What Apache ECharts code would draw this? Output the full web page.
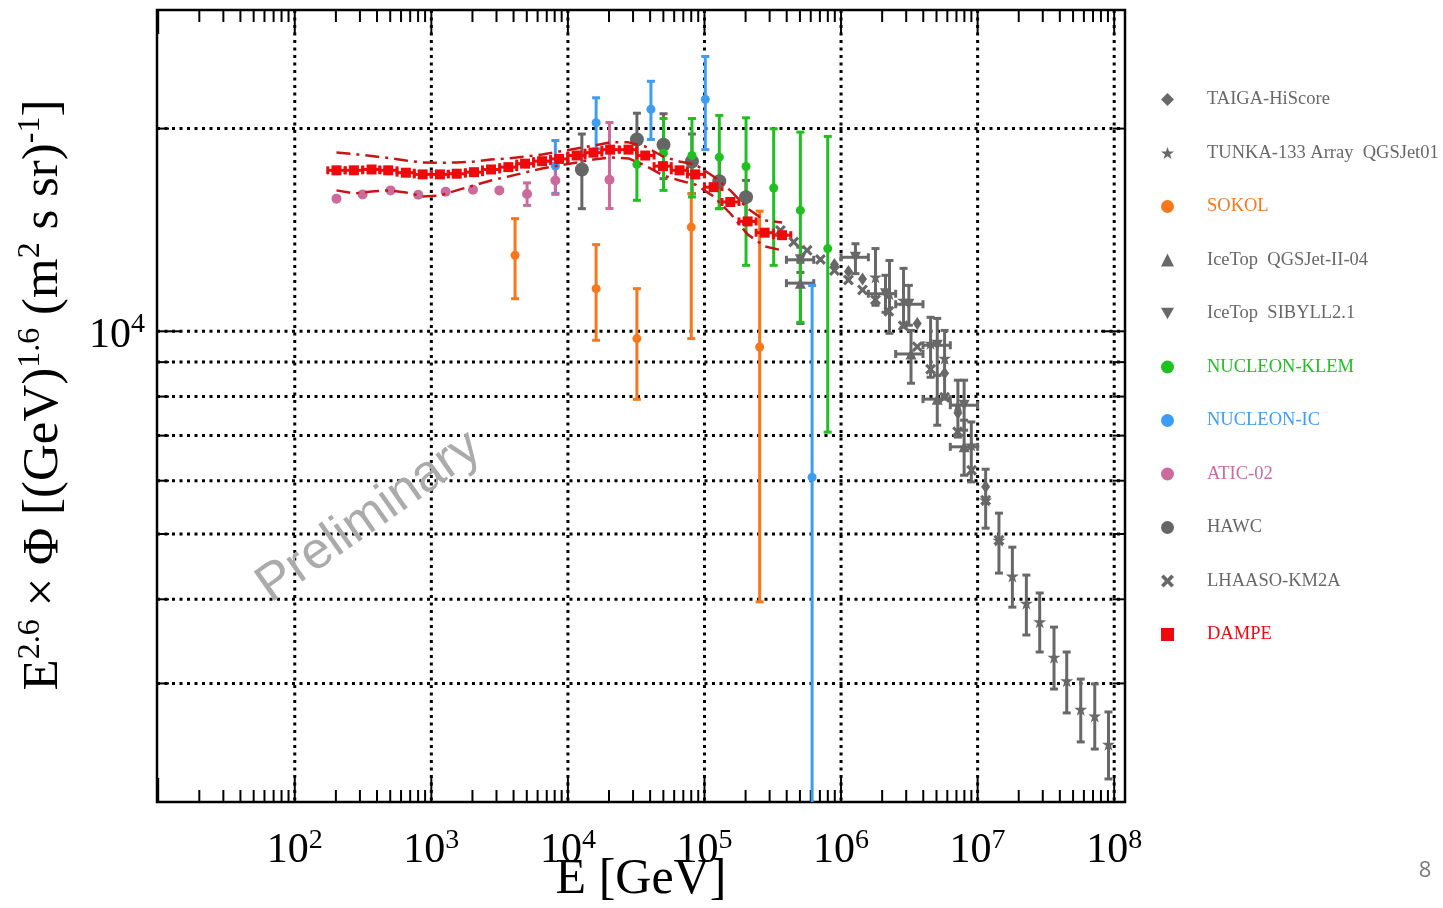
<!DOCTYPE html>
<html>
<head>
<meta charset="utf-8">
<script src="https://cdn.jsdelivr.net/npm/echarts@6/dist/echarts.min.js"></script>
<style>
  html, body { margin: 0; padding: 0; background: #fff; }
  #chart { width: 1443px; height: 908px; }
</style>
</head>
<body>
<div id="chart"></div>
<script>
// axis ranges and decorations
var xMin = 9.8, xMax = 1.2e8;
var yMin = 2000, yMax = 30000;
var xLabelExp = [2, 3, 4, 5, 6, 7, 8];
var yLabelExp = [4];
var xGridLines = [1e2, 1e3, 1e4, 1e5, 1e6, 1e7, 1e8];
var yGridLines = [3000, 4000, 5000, 6000, 7000, 8000, 9000, 10000, 20000];

// DAMPE
var dampeE = [202, 271, 365, 483, 651, 864, 1156, 1534, 2053, 2735, 3663, 4855, 6471, 8620, 11580, 15380, 20390, 27770, 36820, 49650, 65700, 85630, 116600, 154600, 207000, 275900, 370000];
var dampeFlux = [17340, 17340, 17390, 17340, 17200, 17100, 17100, 17140, 17230, 17390, 17530, 17740, 17890, 18030, 18240, 18420, 18610, 18610, 18240, 17590, 17340, 17100, 16370, 15560, 14560, 14010, 13890];
var dampeSysHi = [18430, 18330, 18210, 18090, 17930, 17810, 17790, 17810, 17870, 17990, 18060, 18180, 18300, 18490, 18680, 18870, 19080, 19080, 18810, 18180, 17870, 17690, 16980, 16190, 15220, 14610, 14510];
var dampeSysLo = [16190, 16020, 16130, 16190, 16080, 15860, 15910, 16190, 16470, 16750, 16980, 17210, 17450, 17630, 17810, 17990, 18120, 18060, 17630, 17040, 16750, 16520, 15860, 14960, 13930, 13370, 13190];

// ATIC-02
var aticE = [202, 314, 503, 802, 1273, 2018, 3147, 5023, 8096, 20150];
var aticFlux = [15740, 15970, 16190, 15950, 16120, 16230, 16190, 15990, 16750, 16790];
var aticLo = [0, 0, 0, 0, 0, 0, 0, 15380, 15970, 15220];
var aticHi = [0, 0, 0, 0, 0, 0, 0, 16610, 17740, 20420];

// SOKOL
var sokolE = [4102, 16090, 32010, 80030, 253500];
var sokolFlux = [12970, 11570, 9754, 14280, 9478];
var sokolLo = [11180, 9697, 7925, 9754, 3965];
var sokolHi = [14700, 13450, 11570, 16010, 15080];

// NUCLEON-KLEM
var klemE = [32010, 50120, 80950, 128400, 201500, 321100, 503700, 798700];
var klemFlux = [17700, 18390, 18240, 18140, 17570, 16320, 15120, 13270];
var klemLo = [15650, 16190, 15830, 15210, 12530, 12530, 10310, 7083];
var klemHi = [19200, 20700, 20700, 20920, 20750, 19990, 19760, 19470];

// NUCLEON-IC
var icE = [8096, 16090, 40540, 101400, 614000];
var icFlux = [17590, 20400, 21370, 22110, 6070];
var icLo = [16030, 18660, 19270, 18610, 1000];
var icHi = [19200, 22220, 23510, 25590, 11700];

// HAWC
var hawcE = [12650, 32010, 50120, 80950, 128400, 201500];
var hawcFlux = [17390, 19270, 18920, 17870, 16710, 15820];
var hawcLo = [15210, 17630, 16850, 16010, 15210, 14450];
var hawcHi = [19630, 21080, 21040, 19630, 18140, 16750];

// LHAASO-KM2A
var lhaasoE = [359700, 450000, 564300, 706300, 894600, 1133000, 1436000, 1787000, 2237000, 2853000, 3614000, 4524000, 5730000, 7134000, 9036000, 11450000, 14330000];
var lhaasoFlux = [14120, 13570, 13190, 12780, 12310, 11920, 11520, 11140, 10710, 10190, 9484, 8781, 7979, 7094, 6219, 5614, 4896];

// TUNKA-133
var tunkaE = [1787000, 2263000, 2868000, 4524000, 5730000, 7171000, 8990000, 11450000, 14330000, 17970000, 22750000, 28480000, 36260000, 44930000, 56900000, 72070000, 90820000];
var tunkaFlux = [12040, 11370, 11120, 9598, 9119, 7766, 6777, 5614, 4896, 4330, 3947, 3704, 3281, 3028, 2746, 2684, 2436];
var tunkaLo = [10930, 9932, 10140, 8546, 7979, 6965, 5976, 5101, 4375, 3894, 3540, 3340, 2943, 2712, 2456, 2397, 2164];
var tunkaHi = [13270, 12740, 12400, 10490, 10030, 8460, 7335, 6240, 5370, 4780, 4345, 4087, 3637, 3340, 3045, 2995, 2721];

// TAIGA-HiScore
var taigaE = [894600, 1133000, 1436000, 3614000, 5730000, 7171000, 11450000];
var taigaFlux = [12570, 12270, 11960, 10270, 8664, 7565, 5875];

// IceTop SIBYLL2.1
var sibE = [503800, 1275000, 2116000, 3136000, 5064000, 7964000];
var sibFlux = [12770, 12880, 11370, 10970, 9533, 7766];
var sibLo = [12230, 12180, 10670, 10210, 8603, 7131];
var sibHi = [13330, 13490, 12110, 11700, 10450, 8460];
var sibEmin = [398100, 1000000, 1585000, 2512000, 3981000, 6310000];
var sibEmax = [631000, 1585000, 2512000, 3981000, 6310000, 10000000];

// IceTop QGSJet-II-04
var qgsE = [503800, 3253000, 5064000, 7964000];
var qgsFlux = [11790, 9254, 7930, 6737];
var qgsLo = [10270, 8373, 7253, 6113];
var qgsHi = [12660, 10030, 8603, 7379];
var qgsEmin = [398100, 2512000, 3981000, 6310000];
var qgsEmax = [631000, 3981000, 6310000, 10000000];

var GRAY = '#686868', ORANGE = '#f7771a', GREEN = '#1fc01f', BLUE = '#3d9df2', PINK = '#cc6a9c', RED = '#ee0a0a';
var SERIF = '"Liberation Serif", "Times New Roman", serif';
var starPath = 'path://M50,0L61.8,35.1L98.9,35.1L68.9,56.8L80.3,91.9L50,70.2L19.7,91.9L31.1,56.8L1.1,35.1L38.2,35.1Z';
var crossPath = 'path://M20,0L50,30L80,0L100,20L70,50L100,80L80,100L50,70L20,100L0,80L30,50L0,20Z';
var downTriPath = 'path://M0,0L100,0L50,87Z';

function pts(E, F) {
    return E.map(function (e, i) { return [e, F[i]]; });
}
function errs(E, F, lo, hi, xlo, xhi) {
    return E.map(function (e, i) {
        return [e, F[i], lo ? lo[i] : 0, hi ? hi[i] : 0, xlo ? xlo[i] : 0, xhi ? xhi[i] : 0];
    });
}

function errorBars(color, lw, cap) {
    return function (params, api) {
        var e = api.value(0), f = api.value(1);
        var lo = api.value(2), hi = api.value(3), xl = api.value(4), xh = api.value(5);
        var c = api.coord([e, f]);
        var st = { stroke: color, lineWidth: lw };
        var kids = [];
        if (lo > 0 && hi > 0) {
            var a = api.coord([e, hi]), b = api.coord([e, lo]);
            kids.push({ type: 'line', shape: { x1: c[0], y1: a[1], x2: c[0], y2: b[1] }, style: st });
            kids.push({ type: 'line', shape: { x1: c[0] - cap, y1: a[1], x2: c[0] + cap, y2: a[1] }, style: st });
            kids.push({ type: 'line', shape: { x1: c[0] - cap, y1: b[1], x2: c[0] + cap, y2: b[1] }, style: st });
        }
        if (xl > 0 && xh > 0) {
            var l = api.coord([xl, f]), r = api.coord([xh, f]);
            kids.push({ type: 'line', shape: { x1: l[0], y1: c[1], x2: r[0], y2: c[1] }, style: st });
            kids.push({ type: 'line', shape: { x1: l[0], y1: c[1] - cap, x2: l[0], y2: c[1] + cap }, style: st });
            kids.push({ type: 'line', shape: { x1: r[0], y1: c[1] - cap, x2: r[0], y2: c[1] + cap }, style: st });
        }
        return { type: 'group', children: kids };
    };
}

function errSeries(name, data, color, lw, cap) {
    return {
        name: name, type: 'custom', data: data, clip: true, silent: true, z: 3,
        encode: { x: 0, y: 1 },
        renderItem: errorBars(color, lw, cap)
    };
}
function dotSeries(name, data, color, symbol, size, extra) {
    var s = {
        name: name, type: 'scatter', data: data, symbol: symbol, symbolSize: size,
        itemStyle: { color: color, opacity: 1 }, z: 4, silent: true
    };
    for (var k in extra) s[k] = extra[k];
    return s;
}

// DAMPE bin edges: geometric midpoints between neighbouring points
var dampeEmin = dampeE.map(function (e, i) {
    var prev = i > 0 ? dampeE[i - 1] : e * e / dampeE[1];
    return Math.sqrt(prev * e);
});
var dampeEmax = dampeE.map(function (e, i) {
    var next = i < dampeE.length - 1 ? dampeE[i + 1] : e * e / dampeE[i - 1];
    return Math.sqrt(next * e);
});

// gridlines and ticks (axis decoration)
var gridData = xGridLines.map(function (v) { return [v, yMin, 0]; })
    .concat(yGridLines.map(function (v) { return [xMin, v, 1]; }));
var tickData = [];
for (var n = 1; n <= 8; n++) {
    for (var k = 1; k <= 9; k++) {
        var tv = k * Math.pow(10, n);
        if (tv > xMin && tv < xMax) tickData.push([tv, yMin, 0, k === 1 ? 1 : 0]);
    }
}
[3000, 4000, 5000, 6000, 7000, 8000, 9000, 10000, 20000].forEach(function (v) {
    tickData.push([xMin, v, 1, v === 10000 ? 1 : 0]);
});

var chart = echarts.init(document.getElementById('chart'));

var legendItems = [
    { name: 'TAIGA-HiScore', icon: 'diamond', color: GRAY },
    { name: 'TUNKA-133 Array  QGSJet01', icon: starPath, color: GRAY },
    { name: 'SOKOL', icon: 'circle', color: ORANGE },
    { name: 'IceTop  QGSJet-II-04', icon: 'triangle', color: GRAY },
    { name: 'IceTop  SIBYLL2.1', icon: downTriPath, color: GRAY },
    { name: 'NUCLEON-KLEM', icon: 'circle', color: GREEN },
    { name: 'NUCLEON-IC', icon: 'circle', color: BLUE },
    { name: 'ATIC-02', icon: 'circle', color: PINK },
    { name: 'HAWC', icon: 'circle', color: '#666' },
    { name: 'LHAASO-KM2A', icon: crossPath, color: GRAY },
    { name: 'DAMPE', icon: 'rect', color: RED }
];
var legendRich = {};
legendItems.forEach(function (it, i) {
    legendRich['t' + i] = { color: it.color, fontFamily: SERIF, fontSize: 18.5, lineHeight: 20, padding: [0, 0, 0, 28] };
});

var option = {
    animation: false,
    backgroundColor: '#fff',
    grid: {
        left: 157, top: 10, right: 318, bottom: 106,
        show: true, borderColor: '#000', borderWidth: 2.5,
        containLabel: false, outerBoundsMode: 'none'
    },
    legend: {
        orient: 'vertical', left: 1156, top: 85,
        itemWidth: 13, itemHeight: 13, itemGap: 34.5,
        selectedMode: false,
        data: legendItems.map(function (it) { return { name: it.name, icon: it.icon }; }),
        formatter: function (name) {
            for (var i = 0; i < legendItems.length; i++) {
                if (legendItems[i].name === name) return '{t' + i + '|' + name + '}';
            }
            return name;
        },
        textStyle: { fontFamily: SERIF, fontSize: 18.5, rich: legendRich }
    },
    xAxis: {
        type: 'log', logBase: 10, min: xMin, max: xMax,
        axisLine: { show: false }, axisTick: { show: false }, splitLine: { show: false },
        axisLabel: {
            margin: 25,
            formatter: function (v) {
                var l = Math.log10(v), p = Math.round(l);
                if (Math.abs(l - p) > 1e-6 || xLabelExp.indexOf(p) < 0) return '';
                return '{b|10}{s|' + p + '}';
            },
            rich: {
                b: { fontFamily: SERIF, fontSize: 42, lineHeight: 48, color: '#000' },
                s: { fontFamily: SERIF, fontSize: 28, lineHeight: 28, verticalAlign: 'top', color: '#000' }
            }
        },
        name: 'E [GeV]', nameLocation: 'middle', nameGap: 53, nameMoveOverlap: false,
        nameTextStyle: { fontFamily: SERIF, fontSize: 50, color: '#000' }
    },
    yAxis: {
        type: 'log', logBase: 10, min: yMin, max: yMax,
        axisLine: { show: false }, axisTick: { show: false }, splitLine: { show: false },
        axisLabel: {
            margin: 12, padding: [10, 0, 0, 0],
            formatter: function (v) {
                var l = Math.log10(v), p = Math.round(l);
                if (Math.abs(l - p) > 1e-6 || yLabelExp.indexOf(p) < 0) return '';
                return '{b|10}{s|' + p + '}';
            },
            rich: {
                b: { fontFamily: SERIF, fontSize: 42, lineHeight: 52, color: '#000' },
                s: { fontFamily: SERIF, fontSize: 28, lineHeight: 28, verticalAlign: 'top', color: '#000' }
            }
        },
        name: '{n|E}{s|2.6}{n| × Φ [(GeV)}{s|1.6}{n| (m}{s|2}{n| s sr)}{s|-1}{n|]}',
        nameLocation: 'middle', nameRotate: 90, nameGap: 84, nameMoveOverlap: false,
        nameTextStyle: {
            fontFamily: SERIF, color: '#000', padding: [0, 0, 0, 22],
            rich: {
                n: { fontFamily: SERIF, fontSize: 51, lineHeight: 58, color: '#000' },
                s: { fontFamily: SERIF, fontSize: 32, lineHeight: 32, verticalAlign: 'top', color: '#000' }
            }
        }
    },
    graphic: [
        {
            type: 'text', x: 369, y: 517, rotation: 35 * Math.PI / 180, z: 2,
            style: { text: 'Preliminary', fontFamily: '"Liberation Sans", Arial, sans-serif', fontSize: 52, fill: '#ababab', align: 'center', verticalAlign: 'middle' }
        },
        {
            type: 'text', x: 1425, y: 871,
            style: { text: '8', fontFamily: '"Open Sans", "Liberation Sans", sans-serif', fontSize: 22, fill: '#7a7a7a', align: 'center', verticalAlign: 'middle' }
        }
    ],
    series: [
        {
            name: 'grid', type: 'custom', data: gridData, silent: true, z: 1,
            encode: { x: 0, y: 1 },
            renderItem: function (params, api) {
                var cs = params.coordSys;
                var st = { stroke: '#000', lineWidth: 3, lineDash: [3, 4.5] };
                if (api.value(2) === 0) {
                    var px = api.coord([api.value(0), yMin])[0];
                    return { type: 'line', shape: { x1: px, y1: cs.y, x2: px, y2: cs.y + cs.height }, style: st };
                }
                var py = api.coord([xMin, api.value(1)])[1];
                return { type: 'line', shape: { x1: cs.x, y1: py, x2: cs.x + cs.width, y2: py }, style: st };
            }
        },
        {
            name: 'ticks', type: 'custom', data: tickData, silent: true, z: 2,
            encode: { x: 0, y: 1 },
            renderItem: function (params, api) {
                var cs = params.coordSys;
                var st = { stroke: '#000', lineWidth: 2 };
                var len = api.value(3) ? 24 : 12;
                if (api.value(2) === 0) {
                    var px = api.coord([api.value(0), yMin])[0];
                    return { type: 'group', children: [
                        { type: 'line', shape: { x1: px, y1: cs.y + cs.height, x2: px, y2: cs.y + cs.height - len }, style: st },
                        { type: 'line', shape: { x1: px, y1: cs.y, x2: px, y2: cs.y + len }, style: st }
                    ] };
                }
                var py = api.coord([xMin, api.value(1)])[1];
                return { type: 'group', children: [
                    { type: 'line', shape: { x1: cs.x, y1: py, x2: cs.x + len, y2: py }, style: st },
                    { type: 'line', shape: { x1: cs.x + cs.width, y1: py, x2: cs.x + cs.width - len, y2: py }, style: st }
                ] };
            }
        },

        errSeries('TUNKA err', errs(tunkaE, tunkaFlux, tunkaLo, tunkaHi), GRAY, 3, 4),
        dotSeries('TUNKA-133 Array  QGSJet01', pts(tunkaE, tunkaFlux), GRAY, starPath, 13),
        dotSeries('TAIGA-HiScore', pts(taigaE, taigaFlux), GRAY, 'diamond', [9, 13]),
        errSeries('SIB err', errs(sibE, sibFlux, sibLo, sibHi, sibEmin, sibEmax), GRAY, 3, 4),
        dotSeries('IceTop  SIBYLL2.1', pts(sibE, sibFlux), GRAY, 'triangle', 11, { symbolRotate: 180 }),
        errSeries('QGS err', errs(qgsE, qgsFlux, qgsLo, qgsHi, qgsEmin, qgsEmax), GRAY, 3, 4),
        dotSeries('IceTop  QGSJet-II-04', pts(qgsE, qgsFlux), GRAY, 'triangle', 11),
        dotSeries('LHAASO-KM2A', pts(lhaasoE, lhaasoFlux), GRAY, crossPath, 11),

        errSeries('HAWC err', errs(hawcE, hawcFlux, hawcLo, hawcHi), '#666', 3, 4),
        dotSeries('HAWC', pts(hawcE, hawcFlux), '#666', 'circle', 14),

        errSeries('SOKOL err', errs(sokolE, sokolFlux, sokolLo, sokolHi), ORANGE, 3, 4),
        dotSeries('SOKOL', pts(sokolE, sokolFlux), ORANGE, 'circle', 9),

        errSeries('KLEM err', errs(klemE, klemFlux, klemLo, klemHi), GREEN, 3, 4),
        dotSeries('NUCLEON-KLEM', pts(klemE, klemFlux), GREEN, 'circle', 9),

        errSeries('IC err', errs(icE, icFlux, icLo, icHi), BLUE, 3, 4),
        dotSeries('NUCLEON-IC', pts(icE, icFlux), BLUE, 'circle', 9),

        errSeries('ATIC err', errs(aticE, aticFlux, aticLo, aticHi), PINK, 3, 4),
        dotSeries('ATIC-02', pts(aticE, aticFlux), PINK, 'circle', 10),

        {
            name: 'DAMPE sys hi', type: 'line', data: pts(dampeE, dampeSysHi), symbol: 'none', silent: true, z: 5,
            lineStyle: { color: '#c81414', width: 2.5, type: [14, 6, 3, 6] }
        },
        {
            name: 'DAMPE sys lo', type: 'line', data: pts(dampeE, dampeSysLo), symbol: 'none', silent: true, z: 5,
            lineStyle: { color: '#c81414', width: 2.5, type: [14, 6, 3, 6] }
        },
        errSeries('DAMPE err', errs(dampeE, dampeFlux, null, null, dampeEmin, dampeEmax), RED, 3, 4),
        dotSeries('DAMPE', pts(dampeE, dampeFlux), RED, 'rect', 10, { z: 6 })
    ]
};

chart.setOption(option);
</script>
</body>
</html>
